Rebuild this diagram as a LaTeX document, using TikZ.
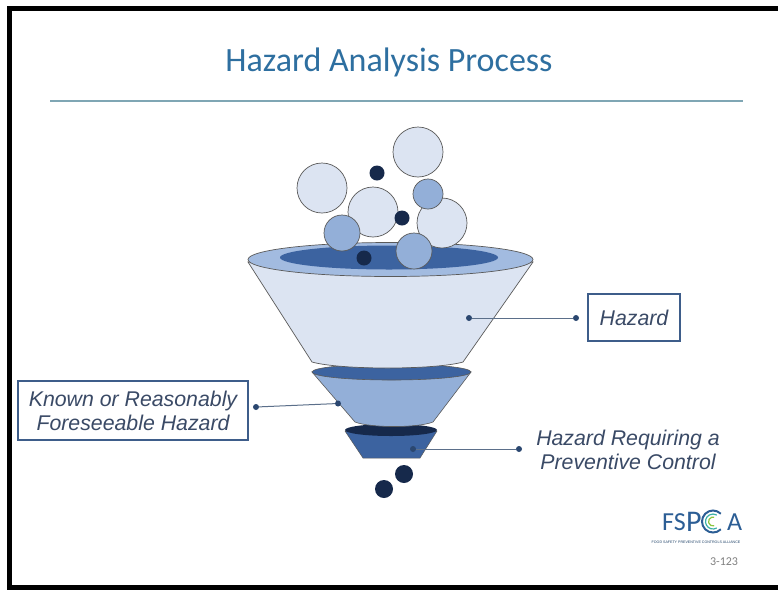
\documentclass[tikz,border=0pt]{standalone}
\usepackage{fontspec}
\usetikzlibrary{calc}
\setmainfont{Liberation Sans}
\newfontfamily\calib{Carlito}
\definecolor{titleblue}{HTML}{2E6FA0}
\definecolor{rulecol}{HTML}{7FA6B4}
\definecolor{lightfill}{HTML}{DCE4F2}
\definecolor{rimfill}{HTML}{A2BBE0}
\definecolor{midfill}{HTML}{93AFD8}
\definecolor{darkblue}{HTML}{3C63A0}
\definecolor{navy}{HTML}{16294B}
\definecolor{outline}{HTML}{5A5A5A}
\definecolor{labeltext}{HTML}{3A4A66}
\definecolor{boxcol}{HTML}{3E5D8A}
\definecolor{conncol}{HTML}{5B6F8A}
\definecolor{dotcol}{HTML}{2B4770}
\definecolor{logoblue}{HTML}{2C5E95}
\definecolor{logogreen}{HTML}{8DC63F}
\definecolor{logoteal}{HTML}{3AAFA9}
\tikzset{
  shapeline/.style={draw=outline, line width=0.7pt},
  lightball/.style={circle, shapeline, fill=lightfill, inner sep=0pt},
  midball/.style={circle, shapeline, fill=midfill, inner sep=0pt},
  navyball/.style={circle, fill=navy, inner sep=0pt},
  labelbox/.style={draw=boxcol, line width=2.4pt, text=labeltext, font=\itshape\fontsize{21.3}{24}\selectfont, align=center},
  labelfree/.style={text=labeltext, font=\itshape\fontsize{21.3}{24}\selectfont, align=center},
  connector/.style={draw=conncol, line width=1pt},
  enddot/.style={circle, fill=dotcol, minimum size=6pt, inner sep=0pt},
  logotext/.style={text=logoblue, inner sep=0pt, anchor=base west},
}
\begin{document}
\begin{tikzpicture}[x=1pt,y=-1pt]
\useasboundingbox (0,0) rectangle (778,590);
\fill[white] (0,0) rectangle (778,590);
% frame
\fill[black] (7,6) rectangle (778,11);
\fill[black] (7,6) rectangle (12,590);
\fill[black] (7,585) rectangle (778,590);
% title
\node[text=titleblue, font=\calib\fontsize{34}{38}\selectfont] (title) at (389,62) {Hazard Analysis Process};
\draw[rulecol, line width=1.3pt] (50,101) -- (743,101);

% drops
\node[navyball, minimum size=18pt] (drop1) at (404,474) {};
\node[navyball, minimum size=18pt] (drop2) at (384,489) {};

% band 3
\filldraw[fill=darkblue, draw=outline, line width=0.5pt] (345,431) -- (363,458) -- (420,458) -- (437,431) -- cycle;
\fill[navy] (391,430) ellipse [x radius=46, y radius=6];
% band 2
\filldraw[fill=midfill, draw=outline, line width=0.6pt] (312,372) -- (355,422) .. controls (370,428) and (418,428) .. (433,422) -- (471,372) -- cycle;
\filldraw[fill=darkblue, draw=outline, line width=0.6pt] (391.5,372) ellipse [x radius=79.5, y radius=8];
% cone 1
\filldraw[fill=lightfill, draw=outline, line width=0.7pt] (248,262) -- (312,362) .. controls (340,370) and (435,370) .. (463,362) -- (533,262) -- cycle;
\filldraw[fill=rimfill, draw=outline, line width=0.7pt] (390.5,259.5) ellipse [x radius=142.5, y radius=17];
\fill[darkblue] (389,257.5) ellipse [x radius=109, y radius=12];

% balls
\node[lightball, minimum size=50pt] (b1) at (418,152) {};
\node[lightball, minimum size=50pt] (b2) at (322,188) {};
\node[lightball, minimum size=50pt] (b3) at (373,212) {};
\node[lightball, minimum size=50pt] (b4) at (442,223) {};
\node[navyball, minimum size=15pt] (n1) at (377,173) {};
\node[midball, minimum size=30pt] (m1) at (428,194) {};
\node[navyball, minimum size=15pt] (n2) at (402,218) {};
\node[midball, minimum size=36pt] (m2) at (342,233) {};
\node[navyball, minimum size=15pt] (n3) at (364,258) {};
\node[midball, minimum size=36pt] (m3) at (414,251) {};

% labels
\node[labelbox, minimum width=92pt, minimum height=47pt, inner sep=0pt] (hz) at (634,317.5) {Hazard};
\node[labelbox, minimum width=230pt, minimum height=59pt, inner sep=0pt] (kn) at (133,410.5) {Known or Reasonably\\Foreseeable Hazard};
\node[labelfree] (pc) at (628,449.5) {Hazard Requiring a\\Preventive Control};

% connectors
\node[enddot] (hzA) at (469,318) {};
\node[enddot] (hzB) at (576,318) {};
\draw[connector] (hzA) -- (hzB);
\node[enddot] (knA) at (338,403.5) {};
\node[enddot] (knB) at (256,407) {};
\draw[connector] (knA) -- (knB);
\node[enddot] (pcA) at (413,449) {};
\node[enddot] (pcB) at (519,449) {};
\draw[connector] (pcA) -- (pcB);

% logo
\node[logotext, font=\calib\fontsize{26}{26}\selectfont] (logoFS) at (662,530) {FS};
\node[logotext, font=\calib\fontsize{30}{30}\selectfont] (logoP) at (686,531) {P};
\coordinate (cc) at (713,521.5);
\draw[logoblue, line width=2pt] ($(cc)+(45:11)$) arc[start angle=45, end angle=315, radius=11];
\draw[logoteal, line width=1.2pt] ($(cc)+(60:7.5)$) arc[start angle=60, end angle=300, radius=7.5];
\draw[logogreen, line width=1.2pt] ($(cc)+(75:4.5)$) arc[start angle=75, end angle=285, radius=4.5];
\node[logotext, font=\calib\fontsize{26}{26}\selectfont] (logoA) at (727,530) {A};
\node[text=logoblue!70!black, font=\fontsize{3.6}{4}\selectfont, inner sep=0pt] (logosub) at (696,542) {FOOD SAFETY PREVENTIVE CONTROLS ALLIANCE};
\node[text=gray, font=\calib\fontsize{12}{13}\selectfont, inner sep=0pt] (pagenum) at (724,562) {3-123};
\end{tikzpicture}
\end{document}
